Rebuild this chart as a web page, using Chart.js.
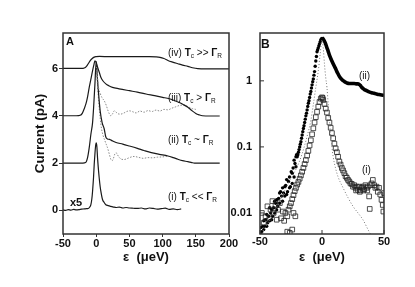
<!DOCTYPE html>
<html><head><meta charset="utf-8">
<script src="https://cdn.jsdelivr.net/npm/chart.js@4"></script>
<style>
html,body{margin:0;padding:0;background:#fff;}
#wrap{position:relative;width:415px;height:287px;overflow:hidden;font-family:'Liberation Sans',Arial,sans-serif;background:#fff;}
canvas{position:absolute;left:0;top:0;}
.lbl{position:absolute;font-size:10px;line-height:10px;white-space:nowrap;color:#111;}
.lbl b{font-weight:bold;}
.lbl sub{font-size:6.5px;vertical-align:-2px;line-height:0;}
</style></head><body>
<div id="wrap">
<canvas id="cA" width="415" height="287"></canvas>
<canvas id="cB" width="415" height="287"></canvas>
<div class="lbl" style="left:66px;top:36px;font-weight:bold;font-size:11px;">A</div>
<div class="lbl" style="left:261px;top:39px;font-weight:bold;font-size:12px;">B</div>
<div class="lbl" style="left:168px;top:48px;">(iv) <b>T</b><sub>c</sub> &gt;&gt; <b>Γ</b><sub>R</sub></div>
<div class="lbl" style="left:168px;top:93px;">(iii) <b>T</b><sub>c</sub> &gt; <b>Γ</b><sub>R</sub></div>
<div class="lbl" style="left:168px;top:135px;">(ii) <b>T</b><sub>c</sub> ~ <b>Γ</b><sub>R</sub></div>
<div class="lbl" style="left:168px;top:192px;">(i) <b>T</b><sub>c</sub> &lt;&lt; <b>Γ</b><sub>R</sub></div>
<div class="lbl" style="left:70px;top:197px;font-weight:bold;font-size:11px;">x5</div>
<div class="lbl" style="left:359px;top:71px;">(ii)</div>
<div class="lbl" style="left:362px;top:165px;">(i)</div>
</div>
<script>
// ---------- Panel A data (current in pA, curves offset by 0/2/4/6) ----------
const xTicksA = [-50, 0, 50, 100, 150, 200];
const yTicksA = [0, 2, 4, 6];

const epsIV = [-50,-40,-30,-22,-18,-15,-12,-9,-6,-3,0,5,20,40,60,80,90,96,102,108,115,123,130,138,145,153,165,180,200];
const curIV = [6.0,6.0,6.0,6.0,6.02,6.08,6.2,6.33,6.42,6.48,6.5,6.51,6.5,6.5,6.5,6.5,6.49,6.47,6.42,6.34,6.27,6.2,6.14,6.09,6.03,5.99,5.98,5.98,5.98];

const epsIII = [-50,-40,-30,-24,-21,-18,-15.5,-13,-10.5,-8,-5.5,-3.5,-2,0,2,4.5,7,10,14.5,19,24.5,34.5,50,62,75,88,100,110,118,126,132,138,144,150,155,160,172,186];
const curIII = [4.0,4.0,4.0,4.02,4.1,4.3,4.5,4.8,5.2,5.55,5.9,6.15,6.32,6.25,6.06,5.85,5.63,5.48,5.35,5.27,5.2,5.14,5.06,5.0,4.92,4.85,4.78,4.72,4.64,4.55,4.46,4.36,4.22,4.1,4.04,4.0,3.99,3.99];

const epsIIIdot = [0,2,3.5,6,9,12,15,18,20,22,25,27,30,33,37,42,46,50,55,60,66,72,78,84,90,96,102,108,114,120,126,132,136,140,145,150];
const curIIIdot = [6.2,5.6,5.2,4.95,4.75,4.64,4.45,4.2,4.07,4.0,4.1,4.21,4.15,4.08,4.07,4.12,4.18,4.21,4.17,4.12,4.2,4.15,4.22,4.18,4.24,4.2,4.27,4.25,4.32,4.38,4.44,4.45,4.42,4.36,4.3,4.27];

const epsII = [-50,-40,-30,-20,-16,-13,-10.5,-8,-5.5,-4,-2,0,2,4,6,9,12,14.5,17,20,25,30,40,50,62,72,83,95,108,116,123,130,138,144,148,160,186];
const curII = [2.0,2.0,2.0,2.0,2.02,2.23,2.65,3.22,3.7,4.3,5.3,6.3,5.5,4.8,4.2,3.7,3.45,3.1,3.02,3.0,2.93,2.87,2.8,2.72,2.62,2.53,2.44,2.37,2.3,2.23,2.16,2.1,2.06,2.02,2.0,2.0,2.0];

const epsIIdot = [0,2,4,6,8,10,13,15,17,20,22,24,26,28,30,32,35,38,42,46,50,57,64,71,78,85,92,100,108];
const curIIdot = [6.2,5.3,4.5,3.9,3.45,3.2,2.95,2.8,2.65,2.35,2.16,2.1,2.2,2.38,2.44,2.35,2.23,2.16,2.15,2.18,2.23,2.28,2.24,2.2,2.23,2.22,2.25,2.26,2.3];

const epsI = [-50,-46,-42,-38,-34,-30,-26,-22,-18,-15,-12,-10,-8,-6.5,-5.5,-4,-3,-2,-1,0,1,2,3,4.5,6,7,8,9.5,12,14.5,18,21.5,26,30,35,40,45,50,56,62,68,74,80,86,92,98,104,110,116,122,128];
const curI = [0.02,0.0,0.03,0.01,0.04,0.02,0.03,0.05,0.06,0.07,0.08,0.13,0.24,0.5,0.8,1.4,1.94,2.35,2.7,2.85,2.7,2.23,1.85,1.38,1.0,0.81,0.65,0.46,0.33,0.24,0.2,0.17,0.14,0.12,0.14,0.1,0.12,0.1,0.09,0.08,0.1,0.06,0.1,0.08,0.05,0.07,0.09,0.04,0.06,0.03,0.06];

// ---------- Panel B data (log scale) ----------
const xTicksB = [-50, 0, 50];
const yTicksB = [0.01, 0.1, 1];

// (ii) filled circles, rising side and noisy tail
const epsBiiDots = [0,-0.5,-1,-1.5,-2,-2.5,-3,-3.5,-4,-4.5,-5,-5.5,-6,-6.5,-7,-7.5,-8,-8.5,-9,-9.5,-10,-10.5,-11,-11.5,-12,-12.5,-13,-13.5,-14,-14.5,-15,-15.5,-16,-16.5,-17,-17.5,-18,-18.5,-19,-19.5,-20,
  -20.5,-21,-21,-21.8,-22.5,-22.5,-23.3,-24,-24,-24.8,-25.5,-26.2,-26.2,-27,-27.8,-28.5,-28.5,-29.3,-30,-30,-31,-31.8,-31.8,-32.6,-33.4,-34.2,-34.2,-35,-35.8,-36.6,-36.6,-37.4,-38.2,-38.2,-39,-39.8,-40.6,-40.6,-41.4,-42.2,-42.2,-43,-43.8,-44.6,-44.6,-45.4,-46.2,-47,-47,-47.8,-48.6,-49.4,-49.4];
const valBiiDots = [4.37,4.3,4.17,3.89,3.63,3.39,3.16,2.95,2.75,2.34,2.0,1.66,1.38,1.22,1.07,0.97,0.87,0.78,0.69,0.63,0.56,0.50,0.457,0.41,0.363,0.324,0.295,0.263,0.234,0.209,0.19,0.17,0.151,0.135,0.12,0.11,0.1,0.091,0.083,0.076,0.071,
  0.076,0.05,0.071,0.056,0.035,0.063,0.048,0.028,0.04,0.042,0.025,0.035,0.024,0.03,0.021,0.032,0.019,0.026,0.018,0.025,0.02,0.024,0.015,0.018,0.021,0.014,0.02,0.0166,0.0126,0.0158,0.0112,0.014,0.01,0.015,0.012,0.0089,0.0112,0.0079,0.01,0.012,0.0076,0.0089,0.0071,0.0095,0.0063,0.0079,0.0063,0.0076,0.0056,0.0063,0.0052,0.006,0.005];

// (ii) falling side, dense (drawn as thick trace)
const epsBiiLine = [0,1,2,3,4,5,6,7,8,9,10,11,12,13,14,15,16,17,18,19,20,22,24,26,28,29,30,31,32,33,34,36,38,40,42,44,46,48,50];
const valBiiLine = [4.47,4.3,3.98,3.6,3.16,2.8,2.45,2.2,2.0,1.82,1.66,1.52,1.38,1.27,1.17,1.1,1.05,1.01,0.98,0.95,0.93,0.91,0.91,0.91,0.9,0.9,0.88,0.85,0.8,0.77,0.74,0.71,0.68,0.66,0.65,0.63,0.62,0.61,0.60];

// (i) open squares
const epsBi = [0,-1,-2,-3,-4,-5,-6,-7,-8,-9,-10,-11,-12,-13,-14,-15,-16,-17,-18,-19,-20,-21,-22,-23,-24,-25,-26,
  -27,-28,-28,-29.5,-30.5,-31.5,-33,-34,-35.5,-36.5,-37.5,-39,-40,-41.5,-42.5,-44,-45.5,-47,-48.5,-24,-23,-21.5,-26,
  0.5,1,2,3,4,5,6,7,8,9,10,11,12,13,14,15,16,17,18,19,20,21,22,23,24,25,26,27,27.5,28,29,30,30.5,31,32,33,33.5,34,35,36,36.5,37,38,38.5,39,40,41,42,43,44,45,46,47,48,49,49.5,50];
const valBi = [0.562,0.537,0.479,0.407,0.339,0.282,0.234,0.191,0.155,0.126,0.105,0.087,0.074,0.063,0.055,0.048,0.042,0.037,0.033,0.0295,0.0269,0.024,0.0214,0.0186,0.0162,0.0141,0.0126,
  0.0112,0.0089,0.0052,0.01,0.0076,0.0105,0.0083,0.0141,0.0112,0.0079,0.0132,0.01,0.0151,0.0112,0.0083,0.0126,0.0089,0.0071,0.01,0.0056,0.01,0.0089,0.005,
  0.55,0.513,0.447,0.38,0.331,0.275,0.234,0.195,0.162,0.135,0.112,0.095,0.083,0.071,0.06,0.054,0.048,0.044,0.04,0.036,0.034,0.0316,0.03,0.028,0.0275,0.025,0.0263,0.024,0.0219,0.025,0.0224,0.025,0.0209,0.0219,0.024,0.025,0.0219,0.0229,0.0263,0.024,0.0219,0.025,0.0178,0.0115,0.0263,0.028,0.0316,0.0263,0.024,0.025,0.0209,0.024,0.019,0.0158,0.0132,0.0105,0.02];

// theory (dotted)
const epsBth = [-50,-45,-40,-35,-30,-25,-20,-16,-12,-9,-7,-5,-3,-1.5,0,1,2,3,4,5,6,7,8,9,11,13,17,21,25,29,33,38,40];
const valBth = [0.0045,0.0063,0.0093,0.0141,0.0219,0.0339,0.05,0.079,0.145,0.251,0.437,0.794,1.41,2.51,4.17,3.16,1.78,1.12,0.794,0.447,0.251,0.151,0.1,0.071,0.047,0.035,0.024,0.017,0.0126,0.01,0.0079,0.0052,0.0045];

// ---------- helpers ----------
const pts = (xs, ys) => xs.map((x, i) => ({x: x, y: ys[i]}));
const FONT = "'Liberation Sans', Arial, sans-serif";
const tickFont = {family: FONT, size: 11, weight: 'bold'};
const titleFontY = {family: FONT, size: 13.5, weight: 'bold'};
const titleFontX = {family: FONT, size: 13, weight: 'bold'};

const framePlugin = {
  id: 'frame',
  afterDatasetsDraw(chart, args, opts) {
    const {ctx, chartArea: a} = chart;
    ctx.save();
    ctx.strokeStyle = '#333';
    ctx.lineWidth = 1.5;
    ctx.strokeRect(a.left, a.top, a.right - a.left, a.bottom - a.top);
    if (opts.inward) {
      ctx.lineWidth = 1;
      ctx.beginPath();
      chart.scales.x.ticks.forEach(t => {
        const px = chart.scales.x.getPixelForValue(t.value);
        ctx.moveTo(px, a.bottom); ctx.lineTo(px, a.bottom - 4);
      });
      chart.scales.y.ticks.forEach(t => {
        const py = chart.scales.y.getPixelForValue(t.value);
        ctx.moveTo(a.left, py); ctx.lineTo(a.left + 4, py);
      });
      ctx.stroke();
    }
    ctx.restore();
  }
};

const lineDs = (label, xs, ys, color, dash, width) => ({
  label, data: pts(xs, ys), showLine: true, borderColor: color, borderWidth: width || 1.2,
  borderDash: dash || [], pointRadius: 0, tension: 0.4, cubicInterpolationMode: 'monotone', fill: false
});

// ---------- Chart A ----------
new Chart(document.getElementById('cA'), {
  type: 'scatter',
  data: { datasets: [
    lineDs('(iv)', epsIV, curIV, '#1a1a1a'),
    lineDs('(iii)', epsIII, curIII, '#1a1a1a'),
    lineDs('(iii) dotted', epsIIIdot, curIIIdot, '#8a8a8a', [1.5, 1.5], 1),
    lineDs('(ii)', epsII, curII, '#1a1a1a'),
    lineDs('(ii) dotted', epsIIdot, curIIdot, '#8a8a8a', [1.5, 1.5], 1),
    lineDs('(i) x5', epsI, curI, '#1a1a1a')
  ]},
  options: {
    responsive: false, animation: false, events: [],
    layout: {padding: {left: 0, top: 33, right: 186, bottom: 22}},
    plugins: {legend: {display: false}, tooltip: {enabled: false}, frame: {inward: false}},
    scales: {
      x: {
        type: 'linear', min: -50, max: 200,
        afterBuildTicks: s => { s.ticks = xTicksA.map(v => ({value: v})); },
        afterFit: s => { s.height = 31; },
        ticks: {font: tickFont, color: '#111', padding: 0, maxRotation: 0, autoSkip: false, callback: v => String(v)},
        grid: {display: true, drawOnChartArea: false, drawTicks: true, tickLength: 3, color: '#333', lineWidth: 1},
        border: {display: false},
        title: {display: true, text: 'ε  (μeV)', font: titleFontX, color: '#111', padding: 0}
      },
      y: {
        type: 'linear', min: -1, max: 7.5,
        afterBuildTicks: s => { s.ticks = yTicksA.map(v => ({value: v})); },
        afterFit: s => { s.width = 63; },
        ticks: {font: tickFont, color: '#111', padding: 1, callback: v => String(v)},
        grid: {display: true, drawOnChartArea: false, drawTicks: true, tickLength: 4, color: '#333', lineWidth: 1},
        border: {display: false},
        title: {display: true, text: 'Current (pA)', font: titleFontY, color: '#111', padding: {top: 32, bottom: 0}}
      }
    }
  },
  plugins: [framePlugin]
});

// ---------- Chart B ----------
new Chart(document.getElementById('cB'), {
  type: 'scatter',
  data: { datasets: [
    Object.assign(lineDs('theory', epsBth, valBth, '#777', [1, 2], 1), {order: 0}),
    {label: '(i)', data: pts(epsBi, valBi), pointStyle: 'rect', pointRadius: 3.3, borderWidth: 0.8,
     borderColor: '#222', backgroundColor: 'rgba(255,255,255,0)', order: 1},
    {label: '(ii) rising', data: pts(epsBiiDots, valBiiDots), pointStyle: 'circle', pointRadius: 1.7, borderWidth: 0,
     backgroundColor: '#000', borderColor: '#000', order: 2},
    Object.assign(lineDs('(ii)', epsBiiLine, valBiiLine, '#000', [], 3.6), {order: 3})
  ]},
  options: {
    responsive: false, animation: false, events: [],
    layout: {padding: {left: 230, top: 33, right: 31, bottom: 22}},
    plugins: {legend: {display: false}, tooltip: {enabled: false}, frame: {inward: true}},
    scales: {
      x: {
        type: 'linear', min: -50, max: 50,
        afterBuildTicks: s => { s.ticks = xTicksB.map(v => ({value: v})); },
        afterFit: s => { s.height = 31; },
        ticks: {font: tickFont, color: '#111', padding: 1, maxRotation: 0, autoSkip: false, callback: v => String(v)},
        grid: {display: false, drawTicks: false},
        border: {display: false},
        title: {display: true, text: 'ε  (μeV)', font: titleFontX, color: '#111', padding: 0}
      },
      y: {
        type: 'logarithmic', min: 0.0048, max: 5.3,
        afterBuildTicks: s => { s.ticks = yTicksB.map(v => ({value: v})); },
        afterFit: s => { s.width = 30; },
        ticks: {font: tickFont, color: '#111', padding: 8, callback: v => String(v)},
        grid: {display: false, drawTicks: false},
        border: {display: false}
      }
    }
  },
  plugins: [framePlugin]
});
</script>
</body></html>
